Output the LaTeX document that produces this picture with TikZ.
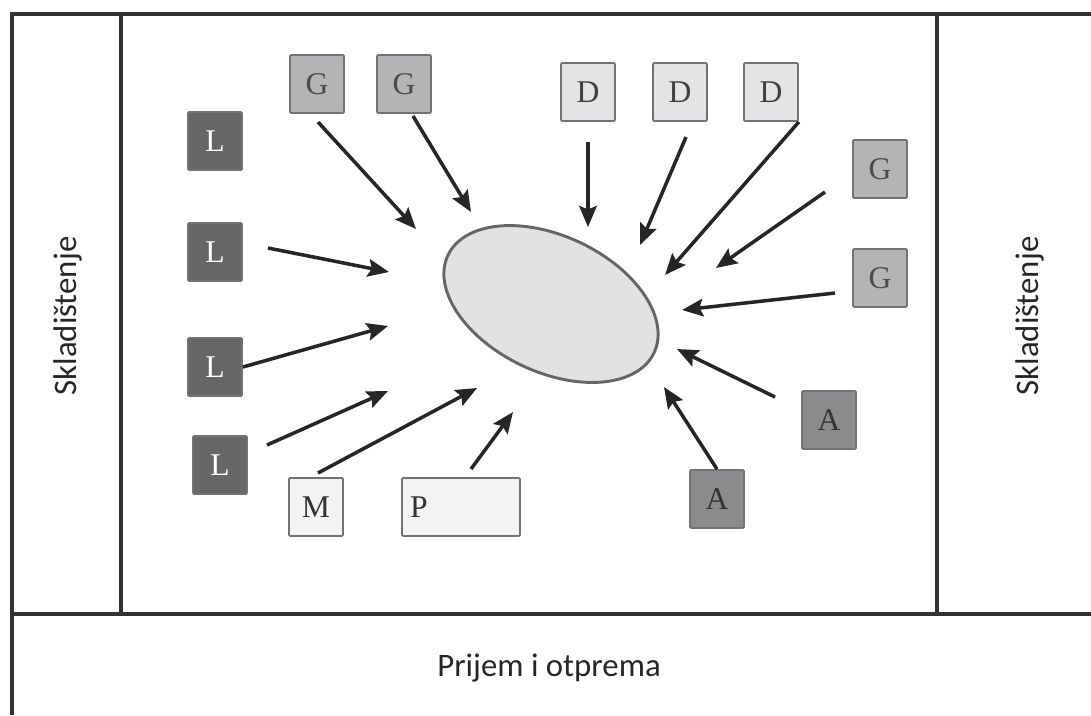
\documentclass[tikz,border=0pt]{standalone}
\usepackage{fontspec}
\setmainfont{Liberation Serif}
\newfontfamily\sidefont{Carlito}
\usetikzlibrary{shapes.geometric,arrows.meta}
\definecolor{darkbox}{HTML}{666666}
\definecolor{midbox}{HTML}{8B8B8D}
\definecolor{greybox}{HTML}{B4B4B6}
\definecolor{lightbox}{HTML}{E4E4E6}
\definecolor{paperbox}{HTML}{F3F3F3}
\definecolor{hubfill}{HTML}{E2E2E5}
\tikzstyle{box}=[draw=black!55, line width=1.5pt, rounded corners=1pt,
  minimum width=1.62cm, minimum height=1.74cm, inner sep=0pt,
  font=\fontsize{27}{27}\selectfont]
\tikzstyle{arr}=[->, line width=3pt, black!85]

\begin{document}
\begin{tikzpicture}[x=0.03cm, y=-0.03cm, >={Stealth[length=18pt,width=15pt,inset=3pt]}]
  \tikzstyle{side}=[text=black!85, font=\sidefont\fontsize{28}{30}\selectfont]
  \useasboundingbox (0,0) rectangle (1091,715);

  % frame of the hall
  \draw[line width=3.8pt, black!80] (1091,14) -- (12,14) -- (12,715);
  \draw[line width=3.8pt, black!80] (121,14) -- (121,614) (937,14) -- (937,614)
    (12,614) -- (1091,614);

  \node[side, rotate=90] (skl) at (68,316) {Skladištenje};
  \node[side, rotate=90] (skr) at (1030,316) {Skladištenje};
  \node[side] (prijem) at (549,668) {Prijem i otprema};

  % middle
  \node[ellipse, draw=black!60, fill=hubfill, line width=2.5pt, minimum width=6.84cm,
    minimum height=4.08cm, rotate=-25.3] (hub) at (551,304) {};

  % workplaces
  \node[box, fill=darkbox, text=white] (l1) at (215,141) {L};
  \node[box, fill=darkbox, text=white] (l2) at (215,252) {L};
  \node[box, fill=darkbox, text=white] (l3) at (215,367) {L};
  \node[box, fill=darkbox, text=white] (l4) at (220,465) {L};
  \node[box, fill=greybox, text=black!70] (g1) at (317,84) {G};
  \node[box, fill=greybox, text=black!70] (g2) at (404,84) {G};
  \node[box, fill=greybox, text=black!70] (g3) at (880,169) {G};
  \node[box, fill=greybox, text=black!70] (g4) at (880,278) {G};
  \node[box, fill=lightbox, text=black!75] (d1) at (588,92) {D};
  \node[box, fill=lightbox, text=black!75] (d2) at (680,92) {D};
  \node[box, fill=lightbox, text=black!75] (d3) at (771,92) {D};
  \node[box, fill=midbox, text=black!80] (a1) at (829,420) {A};
  \node[box, fill=midbox, text=black!80] (a2) at (717,499) {A};
  \node[box, fill=paperbox, text=black!80] (m) at (316,507) {M};
  \node[box, fill=paperbox, text=black!80, minimum width=3.54cm, text width=3.06cm,
    align=left] (p) at (461,507) {P};

  % arrow ends
  \coordinate (g1s) at (318,122);  \coordinate (g1e) at (416,229);
  \coordinate (g2s) at (413,116);  \coordinate (g2e) at (471,212);
  \coordinate (d1s) at (588,142);  \coordinate (d1e) at (588,227);
  \coordinate (d2s) at (686,137);  \coordinate (d2e) at (640,245);
  \coordinate (d3e) at (665,275);
  \coordinate (g3s) at (825,192);  \coordinate (g3e) at (716,268);
  \coordinate (g4s) at (835,293);  \coordinate (g4e) at (682,310);
  \coordinate (a1s) at (775,397);  \coordinate (a1e) at (677,349);
  \coordinate (a2e) at (664,387);
  \coordinate (l2s) at (268,248);  \coordinate (l2e) at (389,272);
  \coordinate (l3e) at (388,326);
  \coordinate (l4s) at (267,445);  \coordinate (l4e) at (388,391);
  \coordinate (ms) at (318,473);   \coordinate (me) at (477,388);
  \coordinate (ps) at (471,469);   \coordinate (pe) at (513,412);

  \foreach \s/\e in {g1s/g1e, g2s/g2e, d1s/d1e, d2s/d2e, d3.south east/d3e,
      g3s/g3e, g4s/g4e, a1s/a1e, a2.north/a2e, l2s/l2e, l3.east/l3e,
      l4s/l4e, ms/me, ps/pe}
    \draw[arr] (\s) -- (\e);
\end{tikzpicture}
\end{document}
